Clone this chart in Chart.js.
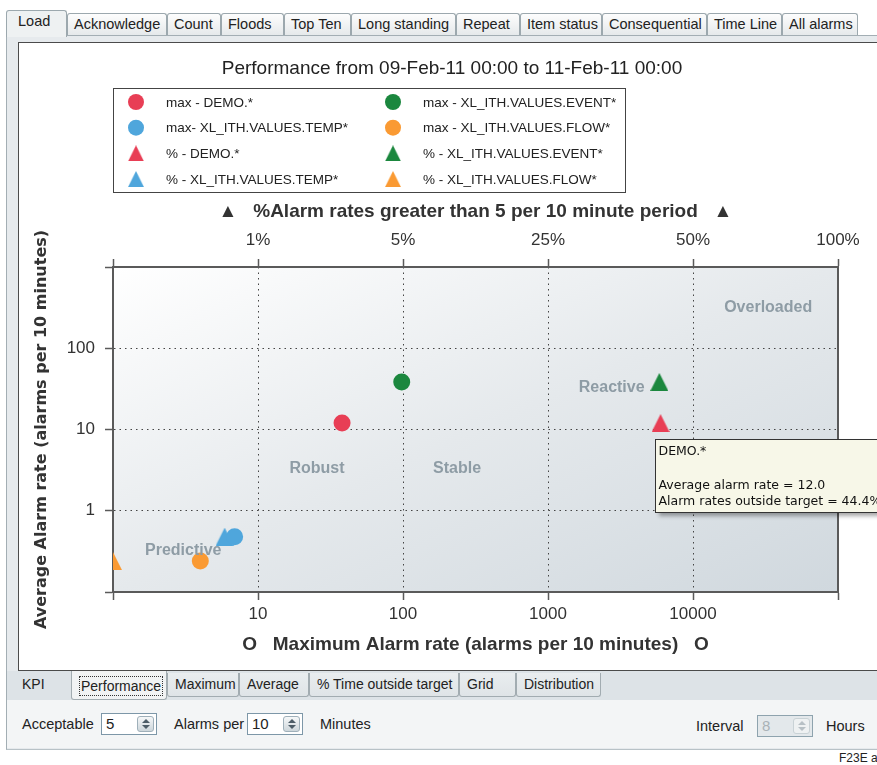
<!DOCTYPE html>
<html>
<head>
<meta charset="utf-8">
<title>Load - Performance</title>
<script src="https://cdn.jsdelivr.net/npm/chart.js@4.4.1/dist/chart.umd.min.js"></script>
<style>
  html, body { margin: 0; padding: 0; background: #fff; overflow: hidden; }
  body { width: 877px; height: 765px; position: relative; font-family: "Liberation Sans", Arial, sans-serif; color: #222; }
  .abs { position: absolute; }
  #frame { left: 6px; top: 35px; width: 900px; height: 713px; background: #e6eaed; border-left: 1px solid #a3aeb4; border-top: 1px solid #a3aeb4; border-bottom: 1px solid #b8c2c7; }
  .tab { position: absolute; box-sizing: border-box; top: 13px; height: 23px; border: 1px solid #9ca8ae; border-bottom: none; border-radius: 3px 3px 0 0; background: linear-gradient(#fdfdfd, #e4e8ea); font-size: 14.5px; line-height: 21px; padding-left: 6px; white-space: nowrap; overflow: hidden; }
  .tab.sel { top: 10px; height: 27px; background: #eef1f2; z-index: 2; padding-left: 11px; }
  #panel { left: 18px; top: 42px; width: 900px; height: 627px; background: #fff; border: 1px solid #4b4b4b; }
  #panel canvas { position: absolute; left: 0; top: 0; }
  #strip { left: 7px; top: 671px; width: 900px; height: 29px; background: #dde3e7; }
  .btab { position: absolute; box-sizing: border-box; top: 673px; height: 24px; border: 1px solid #a2acb1; border-top: none; border-radius: 0 0 3px 3px; background: linear-gradient(#e9edef, #dfe4e7); font-size: 14px; line-height: 22px; padding-left: 7px; white-space: nowrap; }
  .btab.flat { border-color: transparent; background: transparent; }
  .btab.sel { top: 671px; height: 29px; background: #f1f3f4; z-index: 2; line-height: 30px; }
  .btab.sel span { border: 1px dotted #333; padding: 0 1px; line-height: 18px; display: inline-block; margin-top: 3px; }
  #controls { left: 7px; top: 700px; width: 900px; height: 48px; background: #f3f5f6; }
  .lbl { position: absolute; font-size: 14.5px; line-height: 18px; white-space: nowrap; }
  .spin { position: absolute; box-sizing: border-box; width: 56px; height: 22px; border: 1px solid #7d97a8; background: #fff; font-size: 15px; line-height: 20px; padding-left: 4px; }
  .spin b { position: absolute; right: 2px; top: 2px; width: 17px; height: 16px; box-sizing: border-box; border: 1px solid #9fb0ba; border-radius: 3px; background: linear-gradient(#f6f8f9, #cdd6db); }
  .spin b::before, .spin b::after { content: ""; position: absolute; left: 4px; border-left: 4px solid transparent; border-right: 4px solid transparent; }
  .spin b::before { top: 2px; border-bottom: 4px solid #4d5d68; }
  .spin b::after { top: 8px; border-top: 4px solid #4d5d68; }
  .spin.off { background: #e3e8eb; color: #a9b2b7; border-color: #8ea3ae; }
  .spin.off b { background: #eef1f2; border-color: #c9d2d6; }
  .spin.off b::before { border-bottom-color: #b7c0c5; }
  .spin.off b::after { border-top-color: #b7c0c5; }
  #fig { left: 839px; top: 751px; font-size: 12px; white-space: nowrap; }
</style>
</head>
<body>
<div class="tab sel" style="left:6px;width:61px">Load</div>
<div class="tab" style="left:67px;width:100px">Acknowledge</div>
<div class="tab" style="left:167px;width:54px">Count</div>
<div class="tab" style="left:221px;width:63px">Floods</div>
<div class="tab" style="left:284px;width:67px">Top Ten</div>
<div class="tab" style="left:351px;width:105px">Long standing</div>
<div class="tab" style="left:456px;width:64px">Repeat</div>
<div class="tab" style="left:520px;width:82px">Item status</div>
<div class="tab" style="left:602px;width:105px">Consequential</div>
<div class="tab" style="left:707px;width:75px">Time Line</div>
<div class="tab" style="left:782px;width:76px">All alarms</div>

<div id="frame" class="abs"></div>
<div id="panel" class="abs"><canvas id="perfChart" width="858" height="627"></canvas></div>
<div id="strip" class="abs"></div>
<div class="btab flat" style="left:14px;width:57px">KPI</div>
<div class="btab sel" style="left:71px;width:96px;padding-left:7px"><span>Performance</span></div>
<div class="btab" style="left:167px;width:72px">Maximum</div>
<div class="btab" style="left:239px;width:70px">Average</div>
<div class="btab" style="left:309px;width:150px">% Time outside target</div>
<div class="btab" style="left:459px;width:57px">Grid</div>
<div class="btab" style="left:516px;width:85px">Distribution</div>
<div id="controls" class="abs"></div>
<div class="lbl" style="left:22px;top:715px">Acceptable</div>
<div class="spin" style="left:101px;top:713px">5<b></b></div>
<div class="lbl" style="left:174px;top:715px">Alarms per</div>
<div class="spin" style="left:247px;top:713px">10<b></b></div>
<div class="lbl" style="left:320px;top:715px">Minutes</div>
<div class="lbl" style="left:696px;top:717px">Interval</div>
<div class="spin off" style="left:757px;top:715px">8<b></b></div>
<div class="lbl" style="left:826px;top:717px">Hours</div>
<div id="fig" class="abs">F23E a</div>

<script>
// alarm tags and their load figures
const tagNames = ['DEMO.*', 'XL_ITH.VALUES.TEMP*', 'XL_ITH.VALUES.EVENT*', 'XL_ITH.VALUES.FLOW*'];
const maxLabels = ['max - DEMO.*', 'max- XL_ITH.VALUES.TEMP*', 'max - XL_ITH.VALUES.EVENT*', 'max - XL_ITH.VALUES.FLOW*'];
const pctLabels = ['% - DEMO.*', '% - XL_ITH.VALUES.TEMP*', '% - XL_ITH.VALUES.EVENT*', '% - XL_ITH.VALUES.FLOW*'];
const tagColors = ['#e83e55', '#4fa6dc', '#1b873e', '#fa9a33'];
const maxAlarmRate = [38, 6.9, 98, 4.0];          // alarms per 10 minutes
const avgAlarmRate = [12.0, 0.48, 38.5, 0.24];    // alarms per 10 minutes
const pctOutsideTarget = [44.4, 0.77, 44.2, 0];   // % of periods above 5

// axis ticks
const rateTicks = [1, 10, 100, 1000, 10000, 100000];
const rateTickLabels = ['', '10', '100', '1000', '10000', ''];
const avgTicks = [0.1, 1, 10, 100, 1000];
const avgTickLabels = ['', '1', '10', '100', ''];
const pctTicks = [0, 1, 5, 25, 50, 100];
const pctTickLabels = ['', '1%', '5%', '25%', '50%', '100%'];

// region names, placed at (max rate, average rate)
const zoneNames = ['Overloaded', 'Reactive', 'Robust', 'Stable', 'Predictive'];
const zoneMaxRate = [33000, 2750, 25.5, 236, 3.05];
const zoneAvgRate = [320, 32.5, 3.3, 3.3, 0.32];

// top axis is piecewise: each step between pctTicks is one unit
function pctToAxis(p) {
  for (let i = 0; i < pctTicks.length - 1; i++) {
    if (p <= pctTicks[i + 1]) return i + (p - pctTicks[i]) / (pctTicks[i + 1] - pctTicks[i]);
  }
  return pctTicks.length - 1;
}

// triangle centred on its bounding box
function triangleMarker(color, size) {
  const c = document.createElement('canvas');
  c.width = size; c.height = size;
  const g = c.getContext('2d');
  g.fillStyle = color;
  g.beginPath();
  g.moveTo(size / 2, 0); g.lineTo(size, size); g.lineTo(0, size);
  g.closePath(); g.fill();
  return c;
}

const datasets = [];
[[0, 1], [2, 3]].forEach(pair => {
  pair.forEach(i => datasets.push({
    label: maxLabels[i],
    data: [{x: maxAlarmRate[i], y: avgAlarmRate[i]}],
    xAxisID: 'x', yAxisID: 'y',
    pointStyle: 'circle', pointRadius: 8.5, borderWidth: 0,
    backgroundColor: tagColors[i], clip: 0
  }));
  pair.forEach(i => datasets.push({
    label: pctLabels[i],
    data: [{x: pctToAxis(pctOutsideTarget[i]), y: avgAlarmRate[i]}],
    xAxisID: 'xTop', yAxisID: 'y',
    pointStyle: triangleMarker(tagColors[i], 18), pointRadius: 9, borderWidth: 0,
    backgroundColor: tagColors[i], clip: 0
  }));
});

const tickFont = {family: '"Liberation Sans", Arial, sans-serif', size: 17};
const titleFont = {family: '"Liberation Sans", Arial, sans-serif', size: 19, weight: 'bold'};
const axisColor = '#5a5a5a';
const dotted = [1.5, 4];

// corner-to-corner shading, stretched to the plot so the corners match
const plotBackground = {
  id: 'plotBackground',
  beforeDraw(chart) {
    const {ctx, chartArea: a} = chart;
    ctx.save();
    ctx.translate(a.left, a.top);
    ctx.scale(a.width, a.height);
    const g = ctx.createLinearGradient(0, 0, 1, 1);
    g.addColorStop(0, '#ffffff');
    g.addColorStop(0.5, '#e5e9ec');
    g.addColorStop(1, '#d0d8de');
    ctx.fillStyle = g;
    ctx.fillRect(0, 0, 1, 1);
    ctx.restore();
  }
};

const zoneLabels = {
  id: 'zoneLabels',
  afterDatasetsDraw(chart) {
    const {ctx, scales: {x, y}} = chart;
    ctx.save();
    ctx.font = 'bold 16px "Liberation Sans", Arial, sans-serif';
    ctx.fillStyle = '#8e9ca5';
    ctx.textAlign = 'center';
    ctx.textBaseline = 'middle';
    zoneNames.forEach((n, i) => {
      ctx.fillText(n, x.getPixelForValue(zoneMaxRate[i]), y.getPixelForValue(zoneAvgRate[i]));
    });
    ctx.restore();
  }
};

// two-column boxed legend between the title and the top axis
const boxLegend = {
  id: 'boxLegend',
  afterDraw(chart, args, opts) {
    const {ctx, chartArea} = chart;
    const left = chartArea.left;
    ctx.save();
    ctx.strokeStyle = '#444';
    ctx.lineWidth = 1;
    ctx.strokeRect(left + 0.5, opts.top + 0.5, opts.width, opts.height);
    ctx.font = '13.5px "Liberation Sans", Arial, sans-serif';
    ctx.textBaseline = 'middle';
    chart.data.datasets.forEach((ds, i) => {
      const col = Math.floor(i / opts.rows), row = i % opts.rows;
      const mx = left + opts.markerX + col * opts.colWidth;
      const my = opts.top + opts.firstRow + row * opts.rowGap;
      if (typeof ds.pointStyle === 'object') {
        ctx.drawImage(ds.pointStyle, mx - 8, my - 8, 16, 16);
      } else {
        ctx.fillStyle = ds.backgroundColor;
        ctx.beginPath();
        ctx.arc(mx, my, 8, 0, Math.PI * 2);
        ctx.fill();
      }
      ctx.fillStyle = '#222';
      ctx.fillText(ds.label, mx + opts.textGap, my + 1);
    });
    ctx.restore();
  }
};

// hover box left open on one of the % markers
const pinnedTip = {
  id: 'pinnedTip',
  afterDraw(chart, args, opts) {
    const {ctx} = chart;
    const t = opts.tag;
    const idx = chart.data.datasets.findIndex(d => d.label === pctLabels[t]);
    const pt = chart.getDatasetMeta(idx).data[0];
    const lines = [
      tagNames[t], '',
      'Average alarm rate = ' + avgAlarmRate[t].toFixed(1),
      'Alarm rates outside target = ' + pctOutsideTarget[t].toFixed(1) + '%'
    ];
    ctx.save();
    ctx.font = '12.5px "DejaVu Sans", Verdana, sans-serif';
    const w = Math.max(...lines.map(l => ctx.measureText(l).width)) + 10;
    const bx = Math.round(pt.x) - 6 + 0.5, by = Math.round(pt.y) + 16 + 0.5, h = 73;
    ctx.shadowColor = 'rgba(0,0,0,0.35)';
    ctx.shadowBlur = 4;
    ctx.shadowOffsetX = 3;
    ctx.shadowOffsetY = 3;
    ctx.fillStyle = '#f7f7e8';
    ctx.fillRect(bx, by, w, h);
    ctx.shadowColor = 'transparent';
    ctx.strokeStyle = '#333';
    ctx.lineWidth = 1;
    ctx.strokeRect(bx, by, w, h);
    ctx.fillStyle = '#111';
    ctx.textBaseline = 'middle';
    lines.forEach((l, i) => ctx.fillText(l, bx + 3, by + 12.5 + i * 16.7));
    ctx.restore();
  }
};

const edgeless = (ticks) => (c) => {
  const v = c.tick ? c.tick.value : null;
  return (v === ticks[0] || v === ticks[ticks.length - 1]) ? 'rgba(0,0,0,0)' : '#444';
};

new Chart(document.getElementById('perfChart'), {
  type: 'scatter',
  data: {datasets: datasets},
  plugins: [plotBackground, zoneLabels, boxLegend, pinnedTip],
  options: {
    responsive: false,
    animation: false,
    events: [],
    devicePixelRatio: 1,
    layout: {padding: {left: 8, top: 0, right: 0, bottom: 12}},
    plugins: {
      legend: {display: false},
      tooltip: {enabled: false},
      title: {
        display: true,
        text: 'Performance from 09-Feb-11 00:00 to 11-Feb-11 00:00',
        color: '#222',
        font: {family: '"Liberation Sans", Arial, sans-serif', size: 19, weight: 'normal'},
        padding: {top: 14, bottom: 120.2}
      },
      boxLegend: {top: 45, width: 512, height: 104, rows: 4, markerX: 23, colWidth: 257, firstRow: 14, rowGap: 25.7, textGap: 30},
      pinnedTip: {tag: 0}
    },
    scales: {
      x: {
        type: 'logarithmic', position: 'bottom', min: 1, max: 100000,
        afterBuildTicks: s => { s.ticks = rateTicks.map(v => ({value: v})); },
        afterFit: s => { s.height = 66; },
        ticks: {
          autoSkip: false, maxRotation: 0, padding: 4, color: '#333', font: tickFont,
          callback: v => rateTickLabels[rateTicks.indexOf(v)] || ''
        },
        grid: {color: edgeless(rateTicks), lineWidth: 1, tickLength: 8, tickColor: axisColor, tickWidth: 1.5},
        border: {color: axisColor, width: 2, dash: dotted},
        title: {display: true, text: 'O   Maximum Alarm rate (alarms per 10 minutes)   O', color: '#333', font: titleFont, padding: {top: 0, bottom: 2}}
      },
      xTop: {
        type: 'linear', position: 'top', min: 0, max: pctTicks.length - 1,
        afterBuildTicks: s => { s.ticks = pctTicks.map((p, i) => ({value: i})); },
        afterFit: s => { s.height = 67; },
        ticks: {
          autoSkip: false, maxRotation: 0, padding: 8, color: '#333', font: tickFont,
          callback: (v, i) => pctTickLabels[i]
        },
        grid: {drawOnChartArea: false, tickLength: 8, tickColor: axisColor, tickWidth: 1.5},
        border: {color: axisColor, width: 2},
        title: {display: true, text: '▲   %Alarm rates greater than 5 per 10 minute period   ▲', color: '#333', font: titleFont, padding: {top: 0, bottom: 0}}
      },
      y: {
        type: 'logarithmic', position: 'left', min: 0.1, max: 1000,
        afterBuildTicks: s => { s.ticks = avgTicks.map(v => ({value: v})); },
        afterFit: s => { s.width = 86; },
        ticks: {
          autoSkip: false, padding: 10, color: '#333', font: tickFont,
          callback: v => avgTickLabels[avgTicks.indexOf(v)] || ''
        },
        grid: {color: edgeless(avgTicks), lineWidth: 1, tickLength: 8, tickColor: axisColor, tickWidth: 1.5},
        border: {color: axisColor, width: 2, dash: dotted},
        title: {display: true, text: 'Average Alarm rate (alarms per 10 minutes)', color: '#333', font: {family: '"DejaVu Sans", Verdana, sans-serif', size: 16, weight: 'bold'}, padding: {top: 5, bottom: 0}}
      },
      yRight: {
        type: 'logarithmic', position: 'right', min: 0.1, max: 1000,
        afterFit: s => { s.width = 39; },
        ticks: {display: false},
        grid: {display: false},
        border: {color: axisColor, width: 2}
      }
    }
  }
});
</script>
</body>
</html>
